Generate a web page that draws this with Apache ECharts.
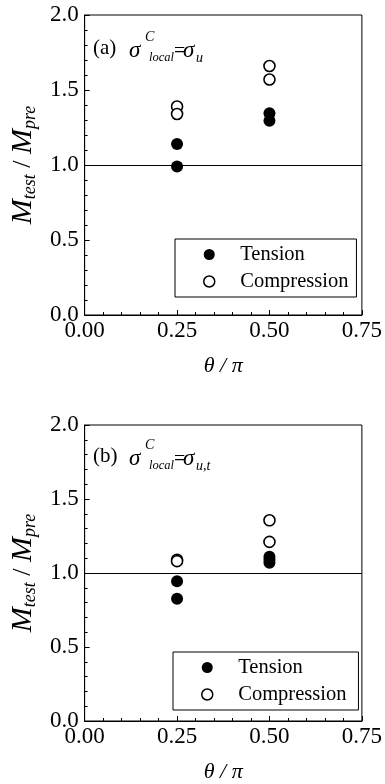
<!DOCTYPE html>
<html>
<head>
<meta charset="utf-8">
<script src="https://cdn.jsdelivr.net/npm/echarts@6/dist/echarts.min.js"></script>
<style>
  html, body { margin: 0; padding: 0; background: #fff; }
  #chart { width: 385px; height: 784px; }
</style>
</head>
<body>
<div id="chart"></div>
<script>
// theta / pi positions and M_test / M_pre ratios
const tensionA = [[0.25, 1.14], [0.25, 0.99], [0.5, 1.345], [0.5, 1.295]];
const compressionA = [[0.25, 1.39], [0.25, 1.34], [0.5, 1.66], [0.5, 1.57]];
const tensionB = [[0.25, 0.945], [0.25, 0.826], [0.5, 1.11], [0.5, 1.09], [0.5, 1.07]];
const compressionB = [[0.25, 1.09], [0.25, 1.08], [0.5, 1.356], [0.5, 1.21]];
const refLine = [1.0];

const serif = 'Liberation Serif';
const chart = echarts.init(document.getElementById('chart'));

const grids = [
  { left: 83, top: 15, width: 281, height: 300 },
  { left: 83, top: 425, width: 280, height: 297 }
];

function xAxisFor(i) {
  return {
    gridIndex: i,
    type: 'value',
    min: 0,
    max: 0.75,
    interval: 0.25,
    name: 'θ / π',
    nameLocation: 'middle',
    nameGap: 40,
    nameTextStyle: { fontFamily: serif, fontStyle: 'italic', fontSize: 22, color: '#000' },
    axisLine: { show: true, lineStyle: { color: '#000', width: 1 } },
    axisTick: { show: true, inside: true, length: 5, lineStyle: { color: '#000' } },
    minorTick: { show: true, splitNumber: 5, length: 3, lineStyle: { color: '#000' } },
    splitLine: { show: false },
    axisLabel: {
      margin: 4,
      fontFamily: serif,
      fontSize: 23,
      color: '#000',
      formatter: v => v.toFixed(2)
    }
  };
}

function yAxisFor(i) {
  return {
    gridIndex: i,
    type: 'value',
    min: 0,
    max: 2,
    interval: 0.5,
    name: '{m|M}{s|test}{n| / }{m|M}{s|pre}',
    nameLocation: 'middle',
    nameGap: 44,
    nameTextStyle: {
      color: '#000',
      rich: {
        m: { fontFamily: serif, fontStyle: 'italic', fontSize: 30, lineHeight: 32, verticalAlign: 'middle' },
        n: { fontFamily: serif, fontSize: 26, lineHeight: 32, verticalAlign: 'middle' },
        s: { fontFamily: serif, fontStyle: 'italic', fontSize: 18, lineHeight: 14, verticalAlign: 'bottom' }
      }
    },
    axisLine: { show: true, lineStyle: { color: '#000', width: 1 } },
    axisTick: { show: true, inside: true, length: 5, lineStyle: { color: '#000' } },
    minorTick: { show: true, splitNumber: 5, length: 3, lineStyle: { color: '#000' } },
    splitLine: { show: false },
    axisLabel: {
      margin: 6,
      fontFamily: serif,
      fontSize: 23,
      color: '#000',
      formatter: v => v.toFixed(1)
    }
  };
}

function scatter(name, data, i, filled) {
  return {
    name: name,
    type: 'scatter',
    xAxisIndex: i,
    yAxisIndex: i,
    data: data,
    symbol: 'circle',
    symbolSize: filled ? 12 : 11,
    itemStyle: filled
      ? { color: '#000', opacity: 1 }
      : { color: '#fff', borderColor: '#000', borderWidth: 1.6, opacity: 1 },
    emphasis: { disabled: true },
    z: filled ? 2 : 3
  };
}

function hLine(i) {
  return {
    type: 'line',
    xAxisIndex: i,
    yAxisIndex: i,
    data: [],
    silent: true,
    markLine: {
      silent: true,
      symbol: ['none', 'none'],
      label: { show: false },
      lineStyle: { color: '#000', width: 1, type: 'solid' },
      data: refLine.map(v => ({ yAxis: v }))
    }
  };
}

function legendFor(i, left, top, padRight) {
  return {
    orient: 'vertical',
    left: left,
    top: top,
    padding: [5, padRight, 5, 28],
    itemGap: 6,
    itemWidth: 52,
    itemHeight: 11,
    borderColor: '#000',
    borderWidth: 1,
    backgroundColor: '#fff',
    textStyle: { fontFamily: serif, fontSize: 20.5, color: '#000' },
    data: [
      { name: i === 0 ? 'Tension' : 'Tension ', icon: 'circle', itemStyle: { color: '#000', borderWidth: 0, opacity: 1 } },
      { name: i === 0 ? 'Compression' : 'Compression ', icon: 'circle', itemStyle: { color: '#fff', borderColor: '#000', borderWidth: 1.5, opacity: 1 } }
    ],
    formatter: n => n.trim()
  };
}

function txt(text, x, y, size, italic) {
  return {
    type: 'text',
    x: x,
    y: y,
    style: {
      text: text,
      fill: '#000',
      font: (italic ? 'italic ' : '') + size + 'px "' + serif + '"',
      align: 'left',
      verticalAlign: 'middle',
      textAlign: 'left',
      textVerticalAlign: 'middle'
    }
  };
}

function annotation(tag, sub, dy) {
  return [
    txt(tag, 93, 48 + dy, 21, false),
    txt('σ', 129, 51 + dy, 23, true),
    txt('C', 145, 37 + dy, 14, true),
    txt('local', 149, 58 + dy, 12.5, true),
    txt('=', 174, 52 + dy, 20, false),
    txt('σ', 183, 51 + dy, 23, true),
    txt(sub, 196, 58 + dy, 14, true)
  ];
}

const option = {
  animation: false,
  backgroundColor: '#fff',
  grid: grids.map(g => Object.assign({ show: true, borderColor: '#000', borderWidth: 1 }, g)),
  xAxis: [xAxisFor(0), xAxisFor(1)],
  yAxis: [yAxisFor(0), yAxisFor(1)],
  legend: [legendFor(0, 175, 239, 8), legendFor(1, 173, 652, 12)],
  graphic: annotation('(a)', 'u', 0).concat(annotation('(b)', 'u,t', 408)),
  series: [
    hLine(0),
    scatter('Tension', tensionA, 0, true),
    scatter('Compression', compressionA, 0, false),
    hLine(1),
    scatter('Tension ', tensionB, 1, true),
    scatter('Compression ', compressionB, 1, false)
  ]
};

chart.setOption(option);
</script>
</body>
</html>
